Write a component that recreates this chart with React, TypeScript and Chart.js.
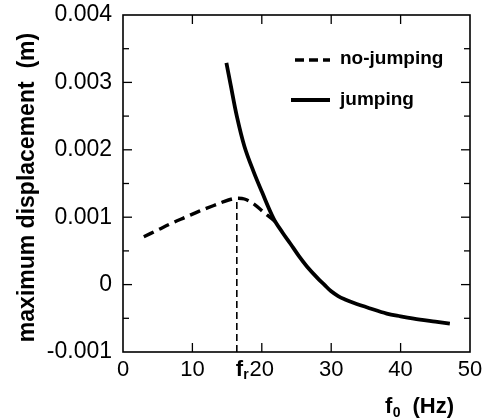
import React, { useEffect, useRef } from 'react';
import { Chart, registerables } from 'chart.js';

Chart.register(...registerables);

// ---- data ----
const noJumpFreq = [3, 5, 7, 9, 11, 13, 14.5, 15.7, 16.4, 17.5, 18.8, 20.2, 21.4, 22];
const noJumpDisp = [0.00071, 0.00081, 0.00091, 0.001, 0.00109, 0.00117, 0.00123, 0.00127, 0.00128, 0.00127, 0.0012, 0.00108, 0.00098, 0.00093];

const jumpFreq = [14.9, 15.5, 16.4, 17.5, 18.8, 20, 21.7, 23, 24.1, 25.3, 26.5, 28, 29, 30, 31, 32, 33.2, 35.5, 38, 40, 42.8, 45, 47.1];
const jumpDisp = [0.00329, 0.00297, 0.0025, 0.00205, 0.00168, 0.00138, 0.00098, 0.00077, 0.00061, 0.00043, 0.00027, 0.0001, 0.0, -0.0001, -0.00017, -0.00022, -0.00027, -0.00035, -0.00043, -0.00047, -0.00052, -0.00055, -0.00058];

const resonanceFreq = [16.4, 16.4];
const resonanceDisp = [-0.001, 0.00128];

const xMin = 0;
const xMax = 50;
const xStep = 10;
const yMin = -0.001;
const yMax = 0.004;
const yStep = 0.001;
const yMinorStep = 0.0005;

const legendLabels = ['no-jumping', 'jumping'];
const yTitle = 'maximum displacement  (m)';
const xTitleMain = 'f';
const xTitleSub = '0';
const xTitleUnit = '(Hz)';
const resonanceLabel = 'f';
const resonanceSub = 'r';

const FONT = '"Liberation Sans", Arial, Helvetica, sans-serif';
const TICK_PAD = 5;
const TICK_FONT = 22;

const toPoints = (xs: number[], ys: number[]) => xs.map((x, i) => ({ x, y: ys[i] }));

const decorPlugin = {
  id: 'decor',
  afterDraw(chart: any) {
    const { ctx, chartArea: a, scales } = chart;
    const xs = scales.x;
    const ys = scales.y;
    const line = (x1: number, y1: number, x2: number, y2: number) => {
      ctx.beginPath();
      ctx.moveTo(x1, y1);
      ctx.lineTo(x2, y2);
      ctx.stroke();
    };
    ctx.save();
    ctx.strokeStyle = '#000';
    ctx.fillStyle = '#000';
    ctx.setLineDash([]);
    // frame
    ctx.lineWidth = 1.6;
    ctx.strokeRect(a.left, a.top, a.right - a.left, a.bottom - a.top);
    // x ticks (inward, top and bottom)
    ctx.lineWidth = 1.3;
    for (let v = xMin + xStep; v < xMax - 1e-9; v += xStep) {
      const px = xs.getPixelForValue(v);
      line(px, a.bottom, px, a.bottom - 9);
      line(px, a.top, px, a.top + 9);
    }
    // y ticks (inward, left and right), major + minor
    const n = Math.round((yMax - yMin) / yMinorStep);
    for (let k = 1; k < n; k++) {
      const v = yMin + k * yMinorStep;
      const py = ys.getPixelForValue(v);
      const len = k % 2 === 0 ? 9 : 6;
      line(a.left, py, a.left + len, py);
      line(a.right, py, a.right - len, py);
    }

    // resonance label f_r next to the "20" tick label
    const lineH = TICK_FONT * 1.2;
    const labelY = a.bottom + TICK_PAD + lineH / 2;
    const fx = xs.getPixelForValue(resonanceFreq[0]) - 1;
    ctx.textAlign = 'left';
    ctx.textBaseline = 'middle';
    ctx.font = `bold ${TICK_FONT}px ${FONT}`;
    ctx.fillText(resonanceLabel, fx, labelY);
    const fw = ctx.measureText(resonanceLabel).width;
    ctx.font = `bold 14px ${FONT}`;
    ctx.fillText(resonanceSub, fx + fw, labelY + 5);

    // x-axis title f0 (Hz)
    const titleBase = a.bottom + 61;
    ctx.textBaseline = 'alphabetic';
    ctx.font = `bold 22px ${FONT}`;
    const tx = a.right - 85;
    ctx.fillText(xTitleMain, tx, titleBase);
    const w1 = ctx.measureText(xTitleMain).width;
    ctx.font = `bold 14px ${FONT}`;
    ctx.fillText(xTitleSub, tx + w1 + 0.5, titleBase + 4);
    ctx.font = `bold 22px ${FONT}`;
    ctx.textAlign = 'right';
    ctx.fillText(xTitleUnit, a.right - 16, titleBase);

    // y-axis title
    ctx.save();
    ctx.translate(34, (a.top + a.bottom) / 2 + 4);
    ctx.rotate(-Math.PI / 2);
    ctx.textAlign = 'center';
    ctx.textBaseline = 'alphabetic';
    ctx.font = `bold 23px ${FONT}`;
    ctx.fillText(yTitle, 0, 0);
    ctx.restore();

    // legend
    const lx0 = a.left + 172;
    const lx1 = a.left + 207;
    const ltx = a.left + 217;
    const ly1 = a.top + 45;
    const ly2 = a.top + 85;
    ctx.lineWidth = 3.6;
    ctx.lineCap = 'butt';
    ctx.setLineDash([9, 5]);
    line(lx0, ly1, lx1, ly1);
    ctx.setLineDash([]);
    ctx.lineWidth = 4;
    line(lx0 - 4, ly2, lx1, ly2);
    ctx.font = `bold 19px ${FONT}`;
    ctx.textAlign = 'left';
    ctx.textBaseline = 'alphabetic';
    ctx.fillText(legendLabels[0], ltx, ly1 + 4);
    ctx.fillText(legendLabels[1], ltx, ly2 + 5);
    ctx.restore();
  },
};

export default function App() {
  const ref = useRef<HTMLCanvasElement>(null);
  useEffect(() => {
    if (!ref.current) return;
    const chart = new Chart(ref.current, {
      type: 'line',
      data: {
        datasets: [
          {
            label: legendLabels[0],
            data: toPoints(noJumpFreq, noJumpDisp),
            borderColor: '#000',
            borderWidth: 3.4,
            borderDash: [11, 6],
            pointRadius: 0,
            fill: false,
            tension: 0.35,
          },
          {
            label: legendLabels[1],
            data: toPoints(jumpFreq, jumpDisp),
            borderColor: '#000',
            borderWidth: 3.8,
            pointRadius: 0,
            fill: false,
            tension: 0.35,
          },
          {
            label: 'fr',
            data: toPoints(resonanceFreq, resonanceDisp),
            borderColor: '#000',
            borderWidth: 1.6,
            borderDash: [7, 4],
            pointRadius: 0,
            fill: false,
            tension: 0,
          },
        ],
      },
      options: {
        animation: false,
        responsive: false,
        devicePixelRatio: 1,
        parsing: false as any,
        layout: { padding: { left: 0, top: 15, right: 15, bottom: 0 } },
        plugins: {
          legend: { display: false },
          tooltip: { enabled: false },
        },
        scales: {
          x: {
            type: 'linear',
            min: xMin,
            max: xMax,
            grid: { display: false, drawTicks: false },
            border: { display: false },
            ticks: {
              stepSize: xStep,
              color: '#000',
              padding: TICK_PAD,
              font: { family: FONT, size: TICK_FONT },
              maxRotation: 0,
              callback: (v: any) => String(Math.round(Number(v))),
            },
            afterFit: (s: any) => {
              s.height = 67;
              s.paddingLeft = 0;
              s.paddingRight = 0;
            },
          },
          y: {
            type: 'linear',
            min: yMin,
            max: yMax,
            grid: { display: false, drawTicks: false },
            border: { display: false },
            ticks: {
              stepSize: yStep,
              color: '#000',
              padding: 11,
              font: { family: FONT, size: 23 },
              callback: (v: any) => {
                const n = Number(v);
                return Math.abs(n) < 1e-9 ? '0' : n.toFixed(3);
              },
            },
            afterFit: (s: any) => {
              s.width = 123;
              s.paddingTop = 0;
              s.paddingBottom = 0;
            },
          },
        },
      },
      plugins: [decorPlugin],
    });
    return () => chart.destroy();
  }, []);
  return (
    <div style={{ position: 'fixed', left: 0, top: 0, width: 485, height: 419, background: '#fff' }}>
      <canvas ref={ref} width={485} height={419} style={{ display: 'block' }} />
    </div>
  );
}
